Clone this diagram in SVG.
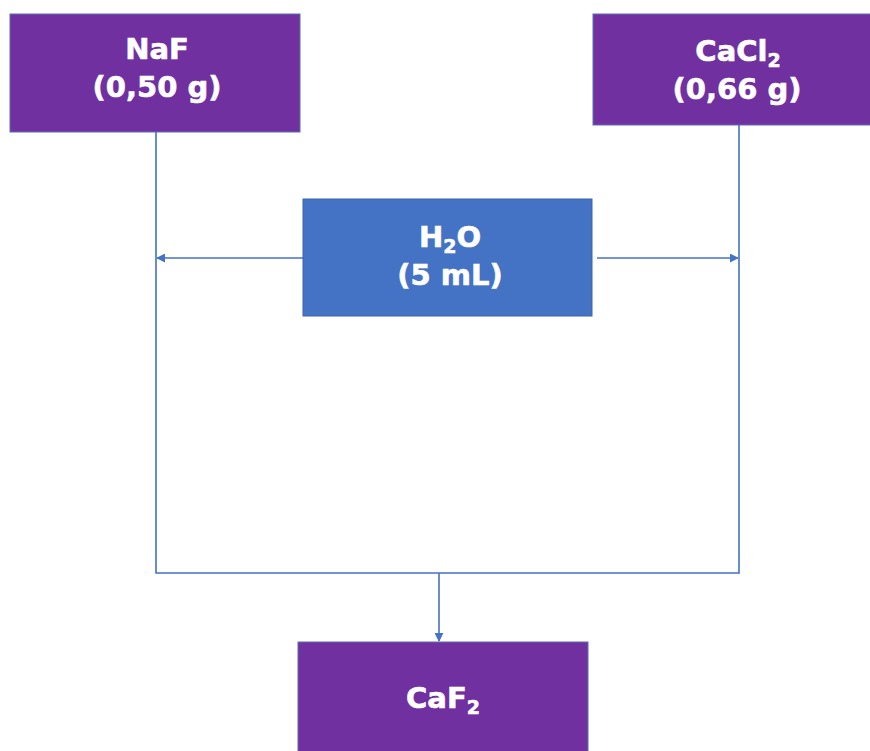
<svg xmlns="http://www.w3.org/2000/svg" width="870" height="751" viewBox="0 0 870 751">
<style>
.purple{fill:#7030A0;stroke:#5A6FB0;stroke-width:1}
.blue{fill:#4472C4;stroke:#3B64AD;stroke-width:1}
.t{font-family:"DejaVu Sans",Verdana,sans-serif;font-weight:bold;font-size:29px;fill:#FFFFFF;stroke:#FFFFFF;stroke-width:0.6;text-anchor:middle}
.sub{font-size:19px}
.c{stroke:#4472C4;stroke-width:1.6;fill:none}
</style>
<defs>
<marker id="ah" viewBox="0 0 10 10" refX="9" refY="5" markerWidth="9" markerHeight="9" markerUnits="userSpaceOnUse" orient="auto">
<path d="M0,0 L10,5 L0,10 z" fill="#4472C4"/>
</marker>
</defs>
<rect width="870" height="751" fill="#FFFFFF"/>
<g id="connectors">
<polyline class="c" points="156,132 156,573 739,573 739,125"/>
<line class="c" x1="439" y1="573" x2="439" y2="641" marker-end="url(#ah)"/>
<line class="c" x1="303" y1="258" x2="157" y2="258" marker-end="url(#ah)"/>
<line class="c" x1="597" y1="258" x2="738" y2="258" marker-end="url(#ah)"/>
</g>
<g id="naf">
<rect class="purple" x="10" y="14" width="290" height="118"/>
<text class="t" x="157" y="59">NaF</text>
<text class="t" x="157" y="97">(0,50 g)</text>
</g>
<g id="cacl2">
<rect class="purple" x="593" y="14" width="290" height="111"/>
<text class="t" x="738" y="61">CaCl<tspan class="sub" dy="6">2</tspan></text>
<text class="t" x="737" y="99">(0,66 g)</text>
</g>
<g id="h2o">
<rect class="blue" x="303" y="199" width="289" height="117"/>
<text class="t" x="450" y="247">H<tspan class="sub" dy="6">2</tspan><tspan dy="-6">O</tspan></text>
<text class="t" x="450" y="285">(5 mL)</text>
</g>
<g id="caf2">
<rect class="purple" x="298" y="642" width="290" height="115"/>
<text class="t" x="443" y="708">CaF<tspan class="sub" dy="6">2</tspan></text>
</g>
</svg>
